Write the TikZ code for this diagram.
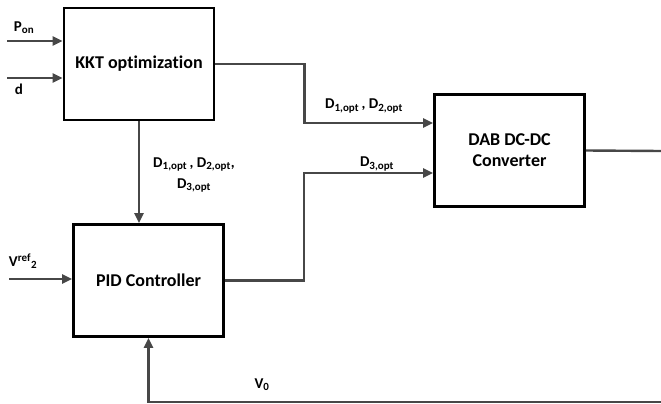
\documentclass[tikz,border=0pt]{standalone}
\usepackage{fontspec}
\setmainfont{Carlito}[Ligatures=NoCommon]
\usepackage{tikz}
\usetikzlibrary{arrows.meta,positioning,shadows}

\newcommand{\lo}[1]{\textsubscript{\fontsize{11}{11}\selectfont #1}}
\newcommand{\hi}[1]{\textsuperscript{\fontsize{11}{11}\selectfont #1}}

\begin{document}
\begin{tikzpicture}[
  x=1pt, y=-1pt,
  font=\fontsize{18}{21}\selectfont\bfseries,
  blockbox/.style={draw=black, line width=2.6pt, fill=white, align=center,
              minimum width=150pt, minimum height=112pt, inner sep=2pt,
              drop shadow={shadow xshift=1.2pt, shadow yshift=-1.2pt, opacity=0.35}},
  sig/.style={line width=2.4pt, draw=black!72},
  arr/.style={sig, -{Triangle[length=10pt,width=9pt]}},
  lbl/.style={inner sep=1pt, font=\fontsize{15}{21}\selectfont\bfseries},
]
\useasboundingbox (0,0) rectangle (661,404);

% blocks
\node[blockbox] (kkt) at (139,64)    {KKT optimization};
\node[blockbox] (dab) at (509.5,150.5) {DAB DC-DC\\ Converter};
\node[blockbox] (pid) at (148.5,280.5) {PID Controller};

% free ends
\coordinate (pon)  at (7,41);
\coordinate (din)  at (7,78);
\coordinate (vref) at (9,279);
\coordinate (out)  at (661,151);
\coordinate (fb)   at (661,402);

% inputs
\draw[arr] (pon) -- (pon -| kkt.west);
\draw[arr] (din) -- (din -| kkt.west);
\draw[arr] (vref) -- (vref -| pid.west);

% KKT to DAB and PID
\draw[arr] (kkt.east) -- ++(89,0) |- ([yshift=27.5pt]dab.west);
\draw[arr] (kkt.south) -- (kkt.south |- pid.north);

% PID to DAB
\draw[arr] (pid.east) -- ++(79,0) |- ([yshift=-22.5pt]dab.west);

% output and feedback
\draw[sig] (dab.east) -- (out);
\draw[arr] (fb) -- (fb -| pid.south) -- (pid.south);

% labels
\node[lbl] (lpon) at (24,28)  {P\lo{on}};
\node[lbl] (ld)   at (19,89)  {d};
\node[lbl] (lvref) at (23,261) {V\hi{ref}\lo{2}};
\node[lbl] (ld12) at (364,106) {D\lo{1,opt}\,, D\lo{2,opt}};
\node[lbl] (ld3)  at (377,164) {D\lo{3,opt}};
\node[lbl, align=center] (ldall) at (194,175) {D\lo{1,opt}\,, D\lo{2,opt},\\ D\lo{3,opt}};
\node[lbl] (lv0)  at (262,385) {V\lo{0}};
\end{tikzpicture}
\end{document}
